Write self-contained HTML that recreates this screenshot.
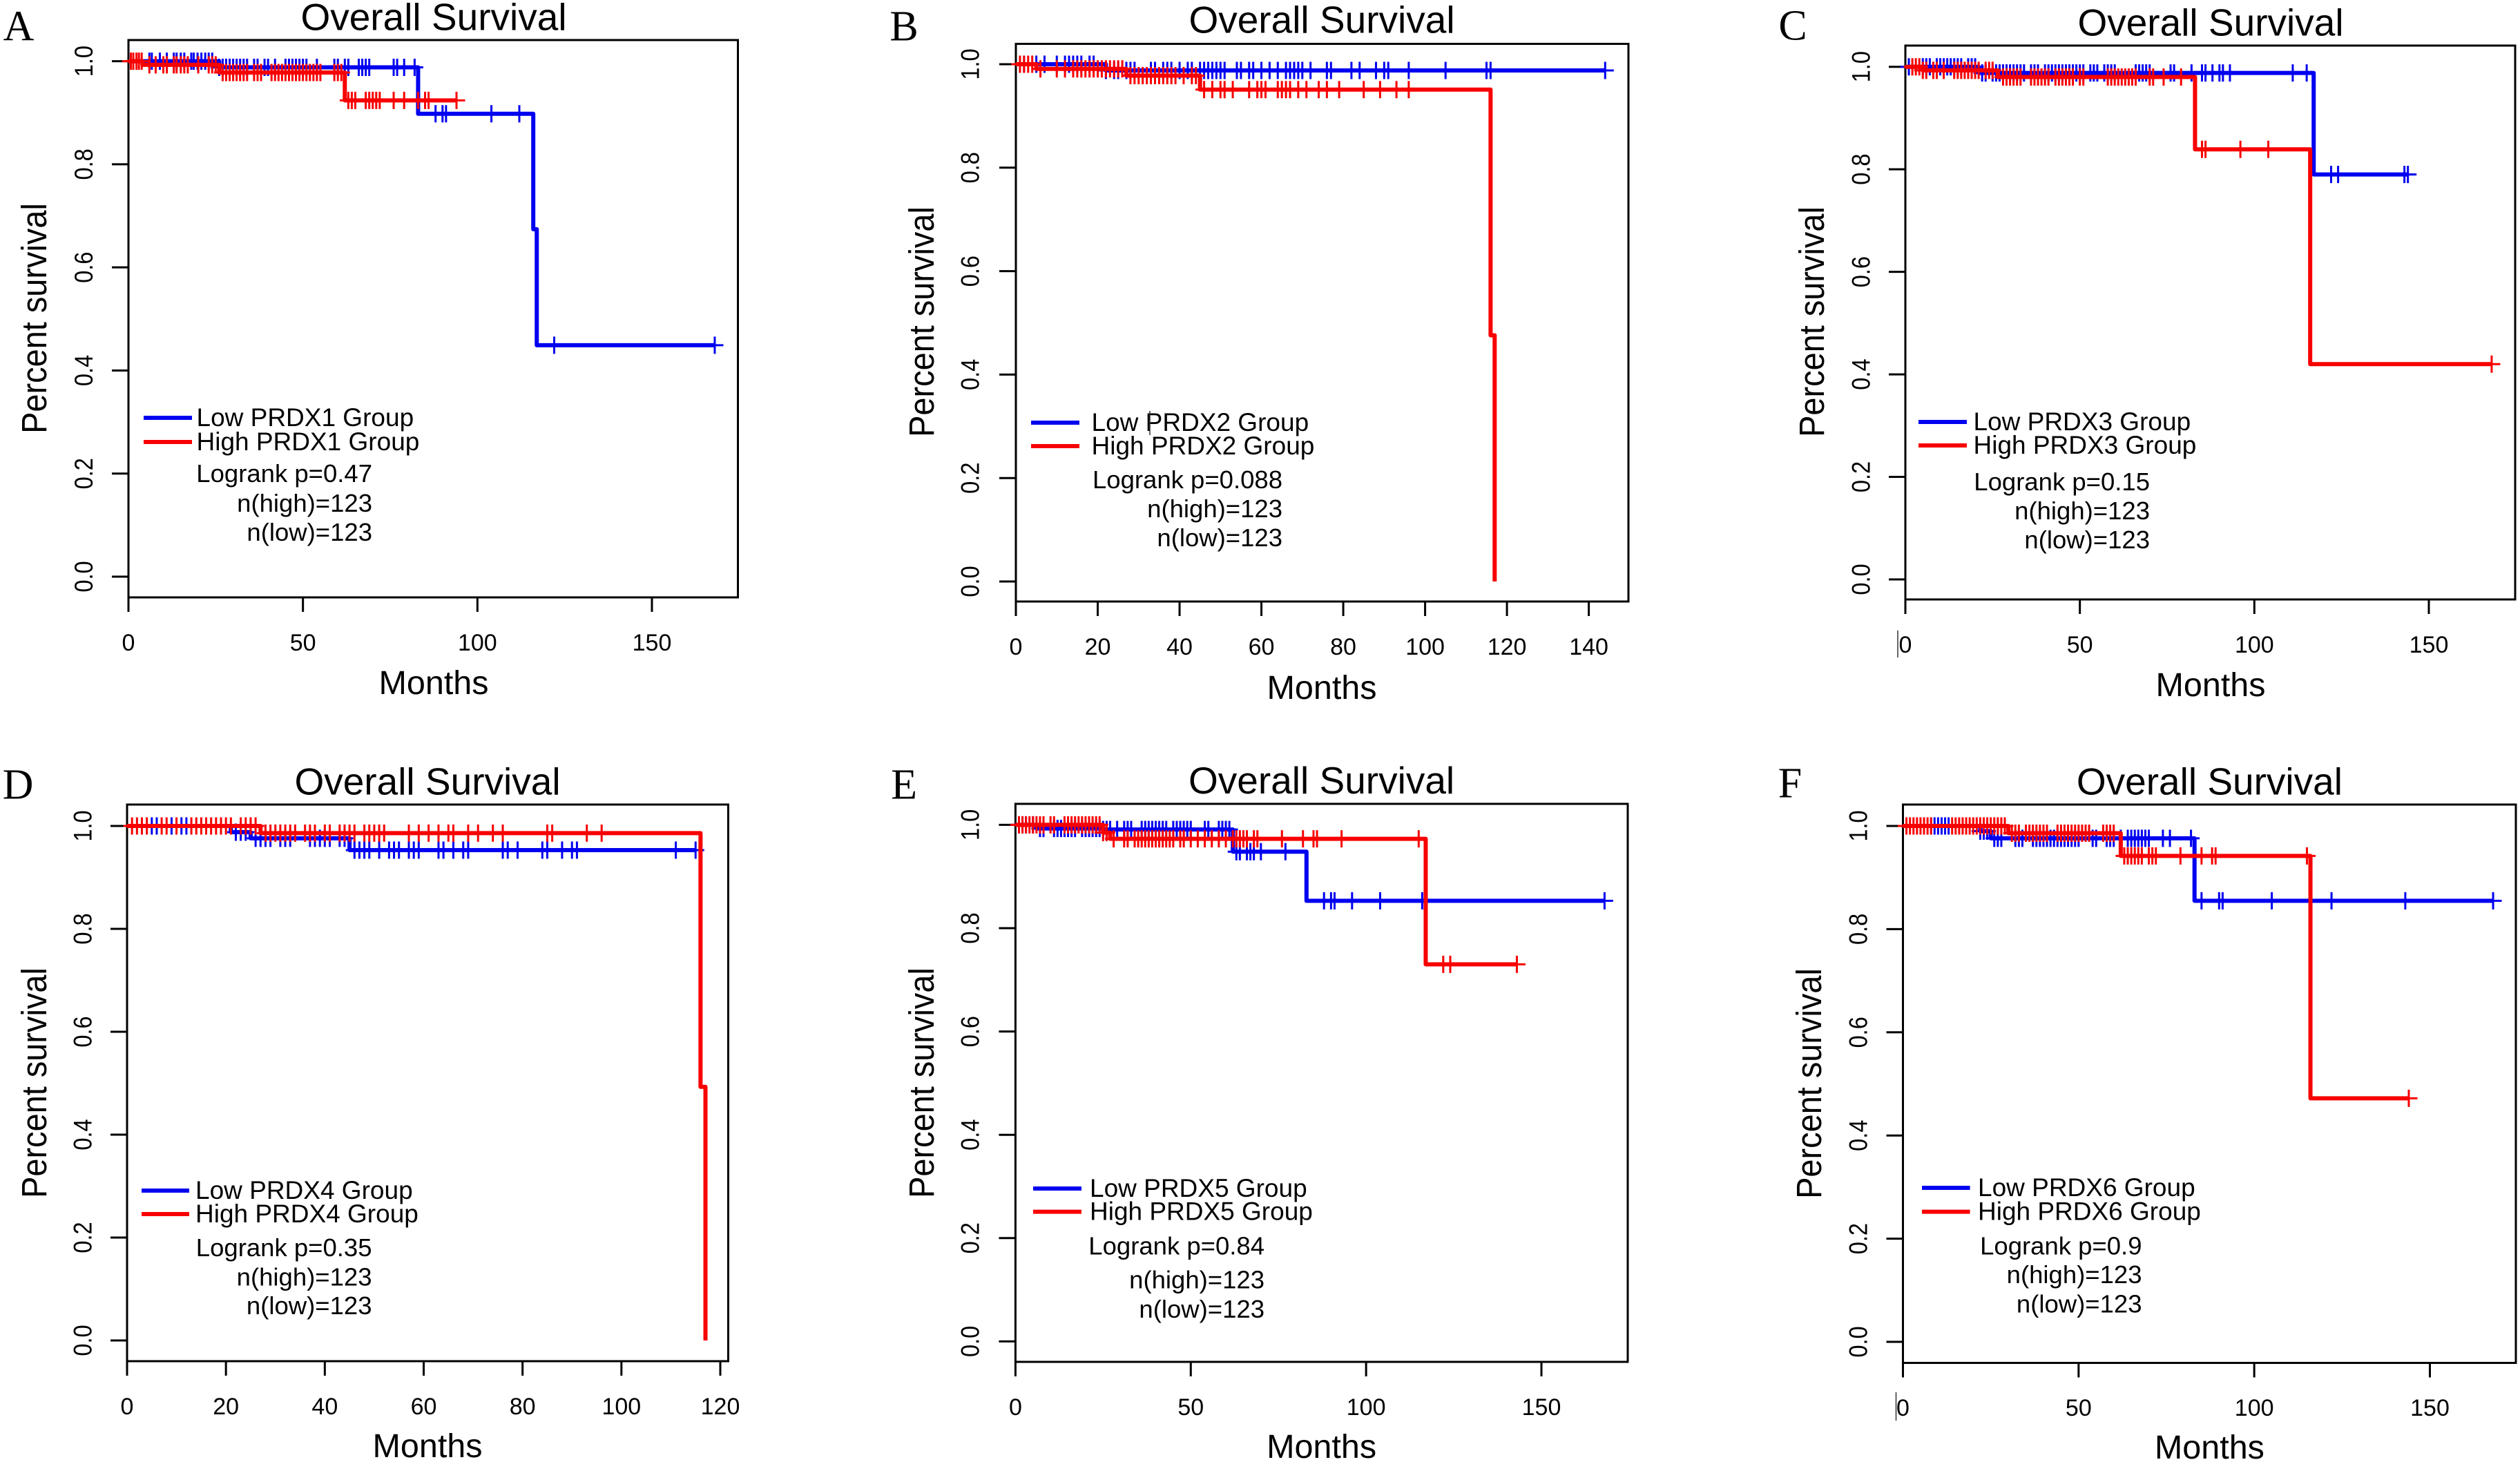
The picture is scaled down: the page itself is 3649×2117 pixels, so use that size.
<!DOCTYPE html>
<html lang="en">
<head>
<meta charset="utf-8">
<title>Overall Survival by PRDX expression</title>
<style>
html,body{margin:0;padding:0;background:#fff;}
#figure{display:block;position:absolute;left:0;top:0;}
text{font-family:"Liberation Sans",Arial,sans-serif;fill:#000;}
.panel-letter{font-family:"Liberation Serif","Times New Roman",serif;}
</style>
</head>
<body>
<svg id="figure" xmlns="http://www.w3.org/2000/svg" width="3649" height="2117" viewBox="0 0 3649 2117"></svg>
<script>
// ---------- Data ----------
const yTickValues = [0, 0.2, 0.4, 0.6, 0.8, 1.0];

const panelNames = ['A', 'B', 'C', 'D', 'E', 'F'];
const geneNames = ['PRDX1', 'PRDX2', 'PRDX3', 'PRDX4', 'PRDX5', 'PRDX6'];
const logrankLabels = ['0.47', '0.088', '0.15', '0.35', '0.84', '0.9'];
const highCounts = [123, 123, 123, 123, 123, 123];
const lowCounts = [123, 123, 123, 123, 123, 123];

const xTicksA = [0, 50, 100, 150];
const xTicksB = [0, 20, 40, 60, 80, 100, 120, 140];
const xTicksC = [0, 50, 100, 150];
const xTicksD = [0, 20, 40, 60, 80, 100, 120];
const xTicksE = [0, 50, 100, 150];
const xTicksF = [0, 50, 100, 150];

// Panel A
const lowTimesA = [0, 26, 83, 116, 117, 168];
const lowSurvA = [1, 0.988, 0.898, 0.674, 0.449, 0.449];
const lowCensorA = [6,6.7,9,11,13,13.8,15,16,18,18.7,19.8,20.9,22,23,24,26,27,28,29,30,31,32,33,34,36,37,39,40,42,45,46,47,48,49,50,51,54,59,60,62,63,66,67,68,69,76,77,79,82,88,90,91,104,112,122,168];
const highTimesA = [0, 4, 26, 62, 94];
const highSurvA = [1, 0.993, 0.978, 0.924, 0.924];
const highCensorA = [0.7,1.4,2.3,3,3.8,6,7.8,10,11,13,13.8,15,16,17,20,23,24,25,27,28,29,30,31,32,33,34,36,37,38,41,42,43,44,45,46,47,48,49,50,51,52,53,54,55,59,60,61,63,64,65,68,69,70,71,72,76,79,83,85,86,94];

// Panel B
const lowTimesB = [0, 22, 144];
const lowSurvB = [1, 0.988, 0.988];
const lowCensorB = [2,5,7,10,12,13,14,15,16,18,19,22,24,25,27,28,29,33,34,36,37,38,40,42,43,45,46,47,48,49,50,51,54,55,57,58,60,62,64,66,67,68,69,70,72,76,77,82,84,88,90,91,96,105,115,116,144];
const highTimesB = [0, 5, 27, 45, 116, 117, 117];
const highSurvB = [1, 0.991, 0.978, 0.951, 0.476, 0, 0];
const highCensorB = [1,2,3,4,6,10,12,14,15,16,17,18,19,20,21,22,23,24,25,26,28,29,30,31,32,33,34,35,36,37,38,39,41,43,44,46,48,50,51,53,57,59,60,61,64,65,66,67,69,71,74,76,79,85,89,93,96];

// Panel C
const lowTimesC = [0, 21, 117, 144];
const lowSurvC = [1, 0.988, 0.79, 0.79];
const lowCensorC = [1,5,6,7,9,10,11,12,13,14,15,16,18,19,20,22,23,25,26,27,28,29,30,31,32,33,34,36,37,38,40,41,42,43,44,45,46,47,48,49,50,51,53,54,55,57,58,59,60,66,67,68,69,70,76,77,82,85,86,88,90,91,93,111,115,122,124,143,144];
const highTimesC = [0, 5, 26.5, 83, 116, 168];
const highSurvC = [1, 0.993, 0.98, 0.839, 0.42, 0.42];
const highCensorC = [2,3,4,5,6,8,9,11,14,15,16,17,18,19,20,21,23,24,25,28,29,30,31,32,33,36,37,38,39,40,41,43,44,45,46,47,48,50,51,58,59,60,61,62,63,64,65,66,70,71,74,79,85,86,96,104,168];

// Panel D
const lowTimesD = [0, 21, 25, 45, 115];
const lowSurvD = [1, 0.988, 0.976, 0.953, 0.953];
const lowCensorD = [5,6,9,11,12,22,23,24,26,27,28,29,31,32,33,37,38,39,40,41,43,44,46,47,48,49,51,53,54,55,57,58,59,63,64,66,68,69,76,77,79,84,85,88,90,91,111,115];
const highTimesD = [0, 27, 116, 117, 117];
const highSurvD = [1, 0.986, 0.493, 0, 0];
const highCensorD = [1,2,3,4,7,8,10,13,14,15,16,17,18,19,20,21,23,24,25,26,28,29,30,31,32,33,34,36,37,38,40,41,43,44,45,46,48,49,50,51,52,57,59,61,63,65,66,69,71,74,76,85,86,93,96];

// Panel E
const lowTimesE = [0, 6, 25, 62, 83, 168];
const lowSurvE = [1, 0.993, 0.991, 0.948, 0.853, 0.853];
const lowCensorE = [1,2,3,5,7,8,11,12,13,14,15,16,17,19,20,21,22,23,24,25,26,27,29,31,32,33,36,37,38,39,40,41,42,43,45,46,47,48,49,50,54,55,58,59,60,61,63,64,66,67,68,70,77,88,90,91,96,104,116,168];
const highTimesE = [0, 25, 27, 117, 143];
const highSurvE = [1, 0.985, 0.973, 0.73, 0.73];
const highCensorE = [1,2,3,4,5,6,7,8,10,11,14,15,16,17,18,19,20,21,22,23,24,25,26,28,31,32,34,35,36,37,38,39,40,41,42,43,44,45,47,48,50,52,54,56,58,60,62,63,64,65,66,68,69,76,82,85,86,93,115,122,124,143];

// Panel F
const lowTimesF = [0, 22, 25, 83, 168];
const lowSurvF = [1, 0.99, 0.976, 0.855, 0.855];
const lowCensorF = [8,9,10,11,12,13,22,23,24,26,27,28,32,33,34,37,38,39,40,41,42,43,44,45,46,47,48,49,50,54,55,58,59,60,62,64,65,66,67,68,69,70,74,76,82,85,90,91,105,122,143,168];
const highTimesF = [0, 30, 62, 116, 144];
const highSurvF = [1, 0.986, 0.942, 0.472, 0.472];
const highCensorF = [1,2,3,4,5,6,7,8,14,15,16,17,18,19,20,21,22,23,24,25,26,27,28,29,31,32,33,35,36,37,38,39,40,41,44,45,46,47,48,49,50,51,52,53,57,58,59,60,63,64,65,66,67,68,70,71,72,79,85,88,89,115,144];

// ---------- Layout (pixels, separate from the data) ----------
const layouts = {
  A:{left:186,right:1068.5,top:58,bottom:865,xTickEndPx:944,y0:835,y1:88.6,titleX:628,titleY:24,xLabY:930,monthsY:988,percentX:49,percentY:461,yLabX:121,letterX:27,letterY:37,legendX1:208,legendX2:278,legendTextX:284.5,legendY1:605,legendY2:640,logrankX:539,logY1:685,logY2:728,logY3:770},
  B:{left:1471,right:2358,top:63.5,bottom:871,xTickEndPx:2300.6,y0:842,y1:93,titleX:1914,titleY:28,xLabY:936,monthsY:995,percentX:1334,percentY:466,yLabX:1404.5,letterX:1309,letterY:37,legendX1:1493,legendX2:1563,legendTextX:1580.5,legendY1:612,legendY2:646,logrankX:1857,logY1:694,logY2:736,logY3:778,artifact:[1665,595,630]},
  C:{left:2759,right:3642,top:66,bottom:868,xTickEndPx:3517,y0:839,y1:96.7,titleX:3201,titleY:32,xLabY:933,monthsY:991,percentX:2623,percentY:466,yLabX:2694.5,letterX:2596,letterY:36,legendX1:2778,legendX2:2848,legendTextX:2857.5,legendY1:611,legendY2:645,logrankX:3113,logY1:697,logY2:739,logY3:781,artifact:[2748,913,952]},
  D:{left:184,right:1054.5,top:1165,bottom:1971,xTickEndPx:1043,y0:1941,y1:1196,titleX:619,titleY:1131,xLabY:2036,monthsY:2093,percentX:49,percentY:1568,yLabX:119.5,letterX:26,letterY:1135,legendX1:205,legendX2:274,legendTextX:283,legendY1:1724,legendY2:1758,logrankX:538.5,logY1:1806,logY2:1848.5,logY3:1890},
  E:{left:1470.4,right:2357,top:1164,bottom:1972,xTickEndPx:2232,y0:1942.4,y1:1194.4,titleX:1913.6,titleY:1129.6,xLabY:2037,monthsY:2094,percentX:1334,percentY:1568,yLabX:1404.5,letterX:1309,letterY:1135,legendX1:1496,legendX2:1566,legendTextX:1578,legendY1:1721,legendY2:1754.6,logrankX:1831,logY1:1803.5,logY2:1852.5,logY3:1895},
  F:{left:2755.5,right:3643,top:1165,bottom:1973.5,xTickEndPx:3518.5,y0:1943,y1:1196,titleX:3199.4,titleY:1131,xLabY:2038,monthsY:2095,percentX:2619,percentY:1569,yLabX:2690.5,letterX:2592,letterY:1133,legendX1:2783,legendX2:2852.6,legendTextX:2864,legendY1:1720,legendY2:1754.6,logrankX:3101.5,logY1:1803.5,logY2:1845,logY3:1887.5,artifact:[2745.5,2016,2057]}
};

const panelData = {
  A:{xTicks:xTicksA,lowT:lowTimesA,lowS:lowSurvA,lowC:lowCensorA,highT:highTimesA,highS:highSurvA,highC:highCensorA},
  B:{xTicks:xTicksB,lowT:lowTimesB,lowS:lowSurvB,lowC:lowCensorB,highT:highTimesB,highS:highSurvB,highC:highCensorB},
  C:{xTicks:xTicksC,lowT:lowTimesC,lowS:lowSurvC,lowC:lowCensorC,highT:highTimesC,highS:highSurvC,highC:highCensorC},
  D:{xTicks:xTicksD,lowT:lowTimesD,lowS:lowSurvD,lowC:lowCensorD,highT:highTimesD,highS:highSurvD,highC:highCensorD},
  E:{xTicks:xTicksE,lowT:lowTimesE,lowS:lowSurvE,lowC:lowCensorE,highT:highTimesE,highS:highSurvE,highC:highCensorE},
  F:{xTicks:xTicksF,lowT:lowTimesF,lowS:lowSurvF,lowC:lowCensorF,highT:highTimesF,highS:highSurvF,highC:highCensorF}
};

// ---------- Drawing ----------
const NS = 'http://www.w3.org/2000/svg';
const BLUE = '#0000f0';
const RED = '#f80000';
const root = document.getElementById('figure');

function node(tag, attrs, parent) {
  const el = document.createElementNS(NS, tag);
  for (const key in attrs) el.setAttribute(key, attrs[key]);
  parent.appendChild(el);
  return el;
}
function label(parent, str, x, centerY, size, anchor) {
  const el = node('text', {x: x, y: centerY + size * 0.35, 'font-size': size, 'text-anchor': anchor || 'middle'}, parent);
  el.textContent = str;
  return el;
}
function rotatedLabel(parent, str, centerX, centerY, size, squeeze) {
  const el = node('text', {x: 0, y: size * 0.35, 'font-size': size, 'text-anchor': 'middle', transform: 'translate(' + centerX + ' ' + centerY + ') rotate(-90) scale(' + squeeze + ' 1)'}, parent);
  el.textContent = str;
  return el;
}
function survivalAt(times, surv, t) {
  let s = surv[0];
  for (let i = 0; i < times.length; i++) { if (t >= times[i]) s = surv[i]; }
  return s;
}
function stepPoints(times, surv, xAxis, yAxis) {
  const pts = [];
  for (let i = 0; i < times.length; i++) {
    if (i > 0) pts.push(xAxis(times[i]) + ',' + yAxis(surv[i - 1]));
    pts.push(xAxis(times[i]) + ',' + yAxis(surv[i]));
  }
  return pts.join(' ');
}
function drawSeries(group, times, surv, censor, color, xAxis, yAxis) {
  const curve = node('polyline', {points: stepPoints(times, surv, xAxis, yAxis), fill: 'none', stroke: color, 'stroke-width': 6, 'stroke-linejoin': 'round', 'stroke-linecap': 'butt'}, group);
  
  
  censor.forEach(function (t) {
    const cx = xAxis(t);
    const cy = yAxis(survivalAt(times, surv, t));
    const mark = node('path', {d: 'M' + (cx - 12.5) + ' ' + cy + 'H' + (cx + 12.5) + 'M' + cx + ' ' + (cy - 12.5) + 'V' + (cy + 12.5), fill: 'none', stroke: color, 'stroke-width': 3}, group);
    
    
  });
}

panelNames.forEach(function (name, idx) {
  const L = layouts[name];
  const D = panelData[name];
  const xMaxTick = D.xTicks[D.xTicks.length - 1];
  const xAxis = function (m) { return L.left + (m / xMaxTick) * (L.xTickEndPx - L.left); };
  const yAxis = function (s) { return L.y0 + s * (L.y1 - L.y0); };

  const g = node('g', {}, root);
  
  

  const letter = label(g, name, L.letterX, L.letterY, 62);
  letter.setAttribute('class', 'panel-letter');
  
  

  const title = label(g, 'Overall Survival', L.titleX, L.titleY, 55);
  
  

  const frame = node('rect', {x: L.left, y: L.top, width: L.right - L.left, height: L.bottom - L.top, fill: 'none', stroke: '#000', 'stroke-width': 3}, g);
  
  

  D.xTicks.forEach(function (v) {
    const tick = node('line', {x1: xAxis(v), x2: xAxis(v), y1: L.bottom, y2: L.bottom + 21, stroke: '#000', 'stroke-width': 3}, g);
    
    
    const text = label(g, String(v), xAxis(v), L.xLabY, 34);
    
    
  });
  yTickValues.forEach(function (v) {
    const tick = node('line', {x1: L.left - 24, x2: L.left, y1: yAxis(v), y2: yAxis(v), stroke: '#000', 'stroke-width': 3}, g);
    
    
    const text = rotatedLabel(g, v.toFixed(1), L.yLabX, yAxis(v), 37, 0.88);
    
    
  });

  const months = label(g, 'Months', L.titleX, L.monthsY, 48.5);
  
  
  const percent = rotatedLabel(g, 'Percent survival', L.percentX, L.percentY, 51, 0.92);
  
  

  drawSeries(g, D.lowT, D.lowS, D.lowC, BLUE, xAxis, yAxis);
  drawSeries(g, D.highT, D.highS, D.highC, RED, xAxis, yAxis);

  const lowKey = node('line', {x1: L.legendX1, x2: L.legendX2, y1: L.legendY1, y2: L.legendY1, stroke: BLUE, 'stroke-width': 6}, g);
  
  
  const highKey = node('line', {x1: L.legendX1, x2: L.legendX2, y1: L.legendY2, y2: L.legendY2, stroke: RED, 'stroke-width': 6}, g);
  
  
  const lowText = label(g, 'Low ' + geneNames[idx] + ' Group', L.legendTextX, L.legendY1 - 1, 37, 'start');
  
  
  const highText = label(g, 'High ' + geneNames[idx] + ' Group', L.legendTextX, L.legendY2 - 1, 37, 'start');
  
  

  const pText = label(g, 'Logrank p=' + logrankLabels[idx], L.logrankX, L.logY1, 36.5, 'end');
  
  
  const nHigh = label(g, 'n(high)=' + highCounts[idx], L.logrankX, L.logY2, 36.5, 'end');
  
  
  const nLow = label(g, 'n(low)=' + lowCounts[idx], L.logrankX, L.logY3, 36.5, 'end');
  
  

  if (L.artifact) {
    const stray = node('line', {x1: L.artifact[0], x2: L.artifact[0], y1: L.artifact[1], y2: L.artifact[2], stroke: '#333', 'stroke-width': 1.5}, g);
    
    
  }
});
</script>
</body>
</html>
